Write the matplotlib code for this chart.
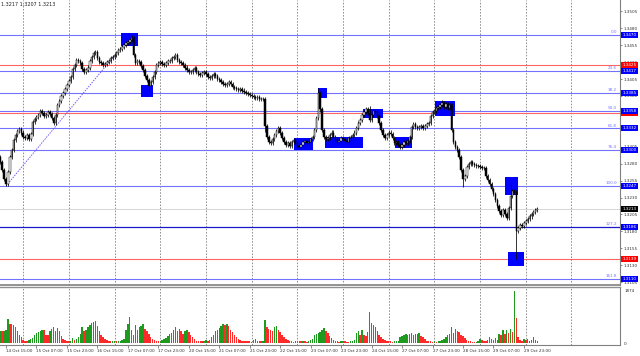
import numpy as np
import pandas as pd
import matplotlib
matplotlib.use("Agg")
import matplotlib.pyplot as plt
from matplotlib.patches import Rectangle
from matplotlib.transforms import blended_transform_factory

# --- data (prices in pips above 1.3000, hourly bars from 14 Oct 12:00) ---
first_open = 290
closes = [
    282, 270, 258, 250, 268, 290, 300, 315, 322, 328,
    331, 326, 320, 318, 322, 316, 324, 342, 346, 349,
    352, 358, 355, 350, 352, 356, 354, 348, 340, 352,
    366, 372, 380, 384, 390, 396, 402, 408, 420, 426,
    433, 431, 428, 420, 415, 418, 422, 432, 438, 444,
    445, 436, 430, 428, 426, 427, 430, 432, 436, 438,
    440, 444, 448, 450, 452, 455, 458, 460, 462, 466,
    440, 428, 432, 430, 424, 418, 410, 403, 394, 400,
    408, 416, 426, 428, 430, 427, 426, 429, 431, 432,
    436, 438, 440, 433, 430, 428, 426, 422, 418, 416,
    415, 418, 421, 416, 412, 411, 414, 416, 412, 408,
    406, 409, 412, 410, 405, 403, 400, 398, 396, 398,
    400, 398, 393, 392, 390, 389, 390, 388, 386, 385,
    383, 381, 380, 378, 377, 378, 376, 375, 376, 335,
    320, 312, 310, 316, 322, 328, 332, 325, 318, 312,
    308, 310, 306, 312, 315, 310, 306, 304, 308, 312,
    314, 310, 312, 316, 320, 330, 348, 385, 360, 330,
    320, 316, 318, 322, 326, 320, 316, 312, 314, 318,
    316, 314, 312, 318, 320, 322, 326, 332, 340, 345,
    352, 356, 360, 355, 345, 352, 358, 356, 350, 340,
    330, 322, 318, 322, 326, 324, 318, 310, 312, 308,
    305, 308, 312, 310, 314, 320, 334, 338, 334, 332,
    334, 336, 333, 335, 338, 340, 350, 356, 358, 362,
    364, 366, 370, 364, 368, 362, 366, 330, 312, 305,
    300, 290, 270, 258, 262, 275, 280, 282, 280, 278,
    276, 277, 275, 273, 274, 262, 256, 250, 242, 235,
    226, 218, 210, 204, 212, 205, 200, 215, 232, 240,
    238, 180, 185, 190, 188, 192, 195, 198, 202, 205,
    208, 212, 213,
]
wick_hi = {69: 4, 167: 6, 194: 10, 232: 4, 268: 18}
wick_lo = {3: 3, 78: 6, 139: 8, 243: 13, 271: 41}

volumes = [
    430, 420, 450, 470, 880, 700, 680, 650, 560, 420,
    300, 200, 120, 90, 80, 110, 130, 180, 300, 360,
    400, 440, 480, 460, 300, 280, 420, 520, 560, 450,
    540, 420, 260, 150, 100, 80, 70, 90, 180, 120,
    150, 220, 320, 560, 440, 470, 580, 650, 720, 770,
    800, 620, 430, 300, 220, 150, 110, 80, 60, 70,
    80, 60, 70, 90, 120, 150, 480, 700, 920, 470,
    300, 650, 480, 560, 620, 700, 520, 420, 330, 220,
    150, 100, 90, 70, 80, 100, 130, 170, 260, 320,
    370, 480, 560, 430, 520, 420, 330, 420, 480, 380,
    280, 200, 130, 90, 80, 70, 60, 80, 100, 90,
    120, 200, 280, 430, 470, 550, 600, 680, 650, 700,
    620, 470, 380, 300, 210, 140, 100, 80, 70, 60,
    60, 70, 50, 100, 130, 90, 70, 60, 80, 820,
    580, 520, 460, 420, 560, 620, 480, 400, 300, 220,
    150, 100, 80, 60, 50, 70, 90, 80, 60, 70,
    60, 50, 80, 100, 150, 300, 320, 350, 380, 480,
    550, 420, 350, 260, 180, 120, 80, 60, 50, 60,
    70, 60, 50, 40, 60, 80, 120, 360, 440, 280,
    480, 300, 250, 380, 1100, 720, 650, 560, 420, 300,
    200, 150, 100, 80, 70, 60, 50, 60, 70, 80,
    200, 240, 300, 340, 290, 320, 360, 300, 330, 340,
    360, 270, 220, 160, 90, 70, 60, 50, 60, 40,
    60, 80, 100, 150, 200, 280, 320, 560, 360, 500,
    430, 380, 300, 240, 180, 120, 90, 60, 50, 40,
    50, 60, 150, 110, 80, 60, 100, 200, 150, 100,
    180, 120, 330, 280, 480, 330, 460, 360, 520, 400,
    1874, 900, 200, 120, 80, 130, 100, 150, 90, 120,
    200, 110, 60,
]

fib_levels = ["0.0", "23.6", "38.2", "50.0", "61.8", "76.4", "100.0", "127.2", "161.8"]
fib_prices = [1.3470, 1.3417, 1.3385, 1.3358, 1.3332, 1.3300, 1.3247, 1.3186, 1.3110]
red_prices = [1.3425, 1.3355, 1.3139]
last_price = 1.3213
price_ticks = [1.3105, 1.3130, 1.3155, 1.3180, 1.3205, 1.3230, 1.3255, 1.3280, 1.3305,
               1.3380, 1.3405, 1.3430, 1.3455, 1.3480, 1.3505]
date_labels = ["14 Oct 15:00", "15 Oct 07:00", "15 Oct 23:00", "16 Oct 15:00", "17 Oct 07:00",
               "17 Oct 23:00", "20 Oct 15:00", "21 Oct 07:00", "21 Oct 23:00", "22 Oct 15:00",
               "23 Oct 07:00", "23 Oct 23:00", "24 Oct 15:00", "27 Oct 07:00", "27 Oct 23:00",
               "28 Oct 15:00", "29 Oct 07:00", "29 Oct 23:00"]
# analyst boxes: (bar from, bar to, price low, price high)
boxes = [(63.4, 72.3, 1.3454, 1.3473), (74.0, 80.2, 1.3378, 1.3396),
         (154.0, 164.3, 1.3300, 1.3318), (167.0, 171.6, 1.3377, 1.3392),
         (170.5, 190.5, 1.3303, 1.3319), (190.5, 201.0, 1.3347, 1.3361),
         (207.3, 216.2, 1.3303, 1.3319), (228.3, 238.8, 1.3350, 1.3372),
         (265.0, 272.0, 1.3234, 1.3260), (266.7, 275.0, 1.3129, 1.3149)]
fib_start = (3, 1.3247)
fib_end = (69, 1.3470)

# --- build OHLC ---
c = 1.3 + np.array(closes) / 10000
o = np.concatenate([[1.3 + first_open / 10000], c[:-1]])
n = len(c)
idx = np.arange(n)
hi = np.maximum(o, c) + np.array([wick_hi.get(i, 3) for i in idx]) / 10000
lo = np.minimum(o, c) - np.array([wick_lo.get(i, 3) for i in idx]) / 10000
vol = np.array(volumes)

W, H = 640, 356
fig = plt.figure(figsize=(6.4, 3.56), dpi=100)
plt.rcParams['font.family'] = ['DejaVu Sans']

def px2x(px):
    return (px - 0.3) / 1.904

ax = fig.add_axes([0, (H - 285) / H, 620 / W, 285 / H])
axv = fig.add_axes([0, (H - 345) / H, 620 / W, 58 / H], sharex=ax)
ax.set_xlim(px2x(0), px2x(620))
ax.set_ylim(1.31008, 1.35217)
axv.set_ylim(-72, 2018)

for a in (ax, axv):
    for s in ("left", "top"):
        a.spines[s].set_visible(False)
    a.spines["right"].set_color("#808080")
    a.spines["right"].set_linewidth(0.8)
    a.spines["bottom"].set_color("#808080")
    a.spines["bottom"].set_linewidth(0.8)
ax.spines["bottom"].set_linewidth(1.2)
axv.spines["top"].set_visible(True)
axv.spines["top"].set_color("#909090")
axv.spines["top"].set_linewidth(1.0)

# vertical dotted grid
for g in range(12, 320, 24):
    for a in (ax, axv):
        a.axvline(g, color="#707070", lw=0.55, ls=(0, (2, 2)), zorder=0)

# horizontal levels
ax.axhline(last_price, color="#cfcfcf", lw=0.6, zorder=1)
for p in red_prices:
    ax.axhline(p, color="#ff6464", lw=0.8, zorder=1)
for lab, p in zip(fib_levels, fib_prices):
    col = "#1818c8" if lab == "127.2" else "#7272ff"
    ax.axhline(p, color=col, lw=0.9 if lab == "127.2" else 0.8, zorder=1)
    ax.text(px2x(617), p + 0.00012, lab, color="#7272ff", fontsize=3, ha="right", va="bottom")

ax.plot([fib_start[0], fib_end[0]], [fib_start[1], fib_end[1]], color="#7a5cf0", lw=0.7,
        ls=(0, (1.5, 1.2)), zorder=2)

# boxes
for b in boxes:
    ax.add_patch(Rectangle((b[0], b[2]), b[1] - b[0], b[3] - b[2], facecolor="#0000ff",
                           edgecolor="none", zorder=2))

# candles
ax.vlines(idx, lo, hi, color="black", lw=0.55, zorder=3)
up = c >= o
body_lo = np.minimum(o, c)
body_h = np.maximum(np.abs(c - o), 0.00003)
ax.bar(idx, body_h, bottom=body_lo, width=0.78, color=np.where(up, "white", "black"),
       edgecolor="black", linewidth=0.35, zorder=4)

# right price axis
ax.yaxis.tick_right()
ax.set_yticks(price_ticks)
ax.set_yticklabels([f"{t:.4f}" for t in price_ticks])
ax.tick_params(axis="y", labelsize=3, length=1.5, width=0.4, pad=1, colors="#303030")
ax.tick_params(axis="x", bottom=False, labelbottom=False)

tr = blended_transform_factory(ax.transAxes, ax.transData)
def price_tag(p, fc, show=True):
    ax.text(1.004, p, f"{p:.4f}", transform=tr, fontsize=3,
            color="white" if show else fc, ha="left",
            va="center", clip_on=False, zorder=6,
            bbox=dict(boxstyle="square,pad=0.25", fc=fc, ec="none"))
price_tag(red_prices[1] - 0.00004, "#ff0000", show=False)
for p in (red_prices[0], red_prices[2]):
    price_tag(p, "#ff0000")
for p in fib_prices:
    price_tag(p, "#0000ff")
price_tag(last_price, "#000000")

# volumes
vcol = ["#1e9b1e" if i > 0 and vol[i] > vol[i - 1] else "#ff2a2a" for i in idx]
vcol[0] = "#1e9b1e"
axv.bar(idx, vol, width=0.75, color=vcol, zorder=3)
axv.yaxis.tick_right()
axv.set_yticks([0, 1874])
axv.set_yticklabels(["0", "1874"])
axv.tick_params(axis="y", labelsize=3, length=0, pad=3, colors="#303030")

tick_pos = [3 + 16 * k for k in range(len(date_labels))]
axv.set_xticks(tick_pos)
axv.set_xticklabels(date_labels, ha="left")
axv.tick_params(axis="x", labelsize=3, length=2, width=0.4, pad=1, colors="#303030")

fig.text(1 / W, 1 - 5 / H, "1.3217 1.3207 1.3213", fontsize=3.5,
         ha="left", va="center", color="#202020")

fig.savefig("out.png", dpi=100, facecolor="white")
